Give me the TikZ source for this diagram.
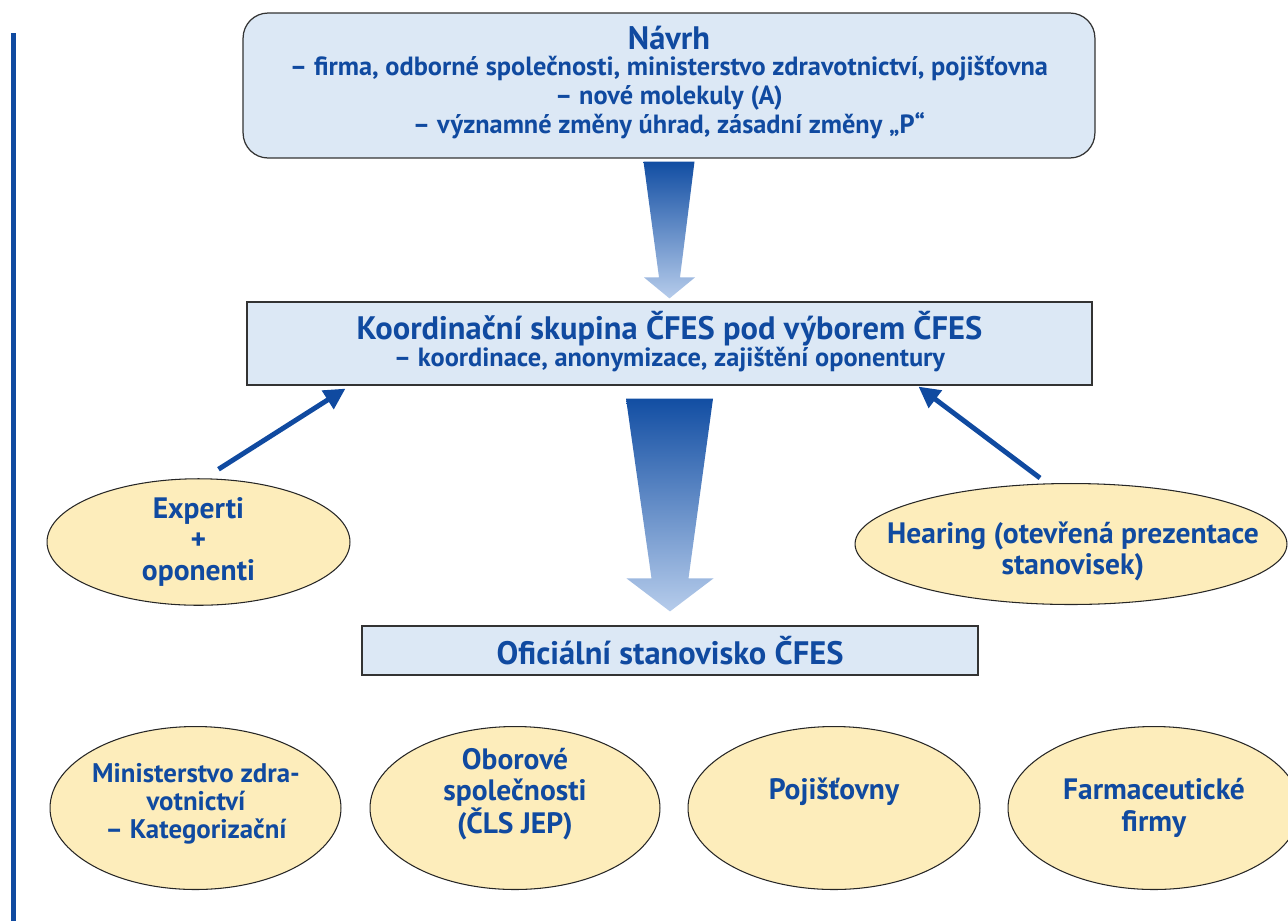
\documentclass[tikz,border=0pt]{standalone}
\usepackage{fontspec}
\setmainfont{PT Sans}
\usetikzlibrary{calc,shapes.geometric,arrows.meta}
\definecolor{cfblue}{RGB}{16,74,160}
\definecolor{boxfill}{RGB}{220,232,245}
\definecolor{ellfill}{RGB}{253,237,187}
\definecolor{arrtop}{RGB}{18,78,163}
\definecolor{arrbot}{RGB}{182,204,235}
\tikzset{
  bigtxt/.style={font=\bfseries\fontsize{18.5}{20}\selectfont, text=cfblue, align=center, inner sep=0pt},
  smalltxt/.style={font=\bfseries\fontsize{15}{16.4}\selectfont, text=cfblue, align=center, inner sep=0pt},
  elltxt/.style={font=\bfseries\fontsize{16.8}{17.8}\selectfont, text=cfblue, align=center, inner sep=0pt},
  boxnode/.style={draw=black!80, line width=0.7pt, fill=boxfill, inner sep=0pt, align=center},
  ellnode/.style={ellipse, draw=black!85, line width=0.6pt, fill=ellfill, inner sep=0pt, align=center},
  link/.style={cfblue, line width=2.8pt, -{Triangle[length=12pt,width=12pt]}}
}
\begin{document}
\begin{tikzpicture}[x=0.02cm, y=-0.02cm]
  \useasboundingbox (0,0) rectangle (1288,921);
  \fill[cfblue] (11,33) rectangle (16,921);
  % boxes
  \node[boxnode, rounded corners=0.5cm, minimum width=17.04cm, minimum height=2.9cm] (navrh) at (669,85.5) {};
  \node[bigtxt] (navrhT) at (669,38) {Návrh};
  \node[smalltxt] (navrhS) at (669,97.5) {– firma, odborné společnosti, ministerstvo zdravotnictví, pojišťovna\\ – nové molekuly (A)\\ – významné změny úhrad, zásadní změny „P“};
  \node[boxnode, minimum width=16.9cm, minimum height=1.66cm] (koord) at (669.5,343.5) {};
  \node[bigtxt] (koordT) at (669.5,328.5) {Koordinační skupina ČFES pod výborem ČFES};
  \node[smalltxt] (koordS) at (669.5,359.5) {– koordinace, anonymizace, zajištění oponentury};
  \node[boxnode, bigtxt, minimum width=12.32cm, minimum height=0.98cm] (ofic) at (670,650.5) {Oficiální stanovisko ČFES};
  % ellipses
  \node[ellnode, elltxt, minimum width=6.06cm, minimum height=2.32cm] (experti) at (198.5,542) {Experti\\ +\\ oponenti};
  \node[ellnode, minimum width=8.64cm, minimum height=2.42cm] (hearing) at (1071,544) {};
  \node[elltxt] (hearingT) at (1073,551.5) {Hearing (otevřená prezentace\\ stanovisek)};
  \node[ellnode, minimum width=5.82cm, minimum height=3.26cm] (mzcr) at (195.5,808) {};
  \node[smalltxt, font=\bfseries\fontsize{15.3}{16}\selectfont] (mzcrT) at (196,803.5) {Ministerstvo zdra-\\ votnictví\\ – Kategorizační};
  \node[ellnode, minimum width=5.8cm, minimum height=3.26cm] (obor) at (515,808) {};
  \node[elltxt] (oborT) at (515,794) {Oborové\\ společnosti\\ (ČLS JEP)};
  \node[ellnode, minimum width=5.84cm, minimum height=3.26cm] (poj) at (834,808) {};
  \node[elltxt] (pojT) at (834,792) {Pojišťovny};
  \node[ellnode, elltxt, minimum width=5.84cm, minimum height=3.26cm] (farm) at (1154,808) {Farmaceutické\\ firmy};
  % block arrows
  \shade[top color=arrtop, bottom color=arrbot]
    ($(navrh.south)+(-25.5,3)$) -- ($(navrh.south)+(25.5,3)$) -- ($(koord.north)+(10.5,-24)$)
    -- ($(koord.north)+(25.5,-24)$) -- ($(koord.north)+(0,-3)$) -- ($(koord.north)+(-25.5,-24)$)
    -- ($(koord.north)+(-10.5,-24)$) -- cycle;
  \shade[top color=arrtop, bottom color=arrbot]
    ($(koord.south)+(-43.5,13)$) -- ($(koord.south)+(43.5,13)$) -- ($(ofic.north)+(18.5,-47)$)
    -- ($(ofic.north)+(43.5,-47)$) -- ($(ofic.north)+(0,-14)$) -- ($(ofic.north)+(-43.5,-47)$)
    -- ($(ofic.north)+(-18.5,-47)$) -- cycle;
  % links
  \coordinate (expfrom) at ($(experti.north)+(20,-9)$);
  \coordinate (expto) at ($(koord.south west)+(99,3)$);
  \coordinate (hearfrom) at ($(hearing.north)+(-31,-5)$);
  \coordinate (hearto) at ($(koord.south east)+(-174,1)$);
  \draw[link] (expfrom) -- (expto);
  \draw[link] (hearfrom) -- (hearto);
\end{tikzpicture}
\end{document}
